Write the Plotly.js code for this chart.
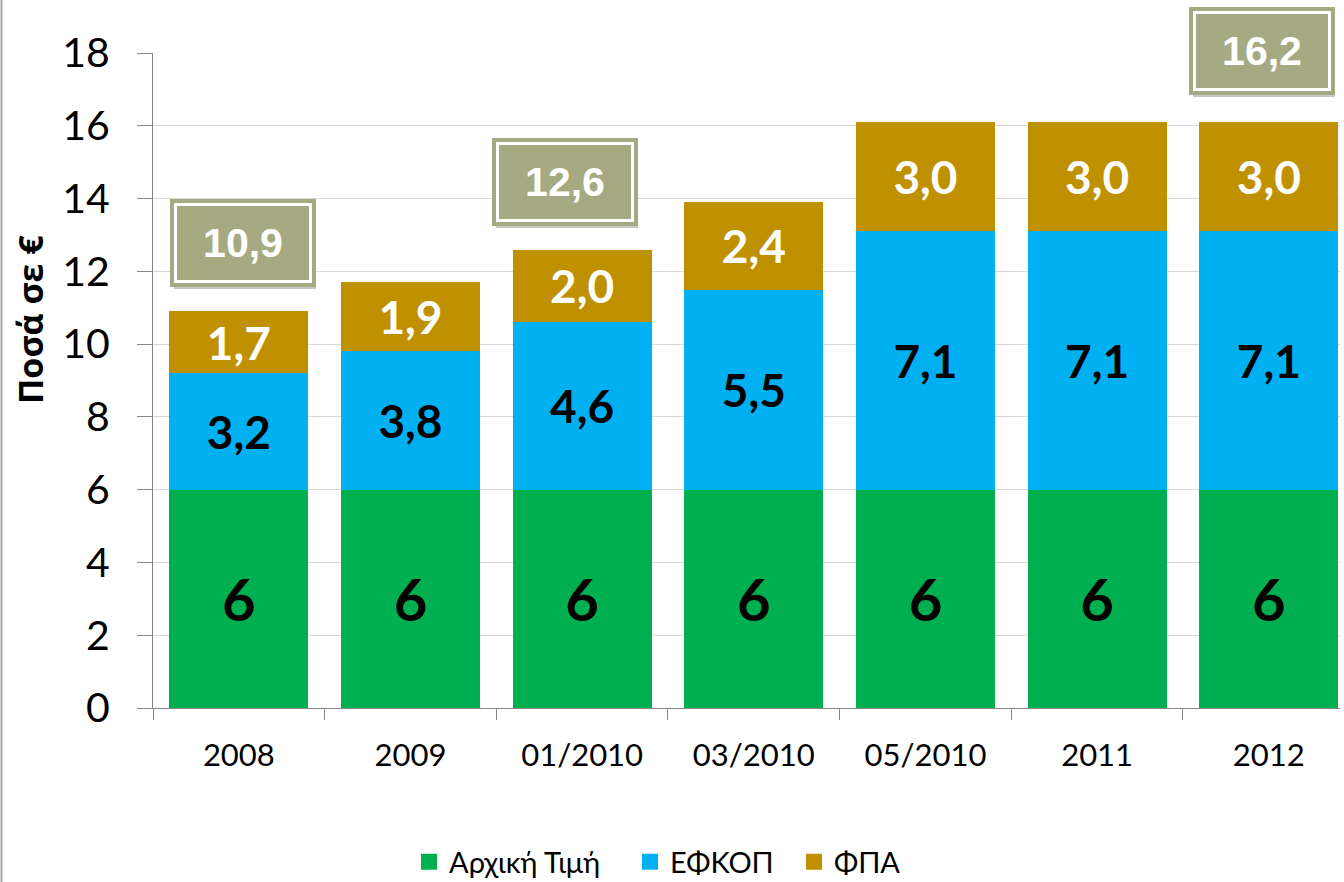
<!DOCTYPE html>
<html>
<head>
<meta charset="utf-8">
<script src="https://cdn.plot.ly/plotly-3.0.1.min.js"></script>
<style>
  html, body { margin: 0; padding: 0; background: #ffffff; }
  #chart { width: 1344px; height: 882px; }
</style>
</head>
<body>
<div id="chart"></div>
<script>
// ---- data ----
const categories = ['2008', '2009', '01/2010', '03/2010', '05/2010', '2011', '2012'];
const basePrice = [6, 6, 6, 6, 6, 6, 6];
const efkop = [3.2, 3.8, 4.6, 5.5, 7.1, 7.1, 7.1];
const fpa = [1.7, 1.9, 2.0, 2.4, 3.0, 3.0, 3.0];
const seriesNames = ['Αρχική Τιμή', 'ΕΦΚΟΠ', 'ΦΠΑ'];
const totalCategories = ['2008', '01/2010', '2012'];
const totalValues = [10.9, 12.6, 16.2];
const yTickValues = [0, 2, 4, 6, 8, 10, 12, 14, 16, 18];
const yAxisTitle = 'Ποσά σε €';

// ---- styling ----
const colors = ['#00B050', '#00B0F0', '#BF9000'];
const boxColor = '#A5AA82';
const W = 1344, H = 882;
const M = { l: 153, r: 4, t: 53, b: 174, autoexpand: false };
const plotW = W - M.l - M.r, plotH = H - M.t - M.b;
const pxX = px => (px - M.l) / plotW;
const pxY = py => (H - M.b - py) / plotH;

const fmt = v => v.toFixed(1).replace('.', ',');

function barTrace(vals, i, labelSize, labelColor, labels) {
  return {
    type: 'bar', x: categories, y: vals, name: seriesNames[i],
    marker: { color: colors[i], line: { width: 0 } },
    text: labels, textposition: 'inside', insidetextanchor: 'middle',
    textangle: 0, constraintext: 'none',
    textfont: { family: 'Lato, "Open Sans", sans-serif', size: labelSize, color: labelColor, weight: 700 },
    showlegend: false, hoverinfo: 'skip', legend: 'legend'
  };
}

const traces = [
  barTrace(basePrice, 0, 58, '#000000', basePrice.map(v => String(v))),
  barTrace(efkop, 1, 46, '#000000', efkop.map(fmt)),
  barTrace(fpa, 2, 46, '#FFFFFF', fpa.map(fmt))
];

// legend proxies (square swatches)
const legendIds = ['legend', 'legend2', 'legend3'];
seriesNames.forEach((n, i) => {
  traces.push({
    type: 'scatter', mode: 'markers', x: [null], y: [null], name: n,
    marker: { symbol: 'square', size: 17, color: colors[i] },
    showlegend: true, legend: legendIds[i], hoverinfo: 'skip'
  });
});

// total boxes
const annFont = { family: '"Liberation Sans", Arial, sans-serif', size: 41, color: '#FFFFFF', weight: 700 };
const blankFont = Object.assign({}, annFont, { color: 'rgba(0,0,0,0)' });
const xShifts = [4, -17, -7];
const annotations = [];
totalCategories.forEach((c, i) => {
  const base = { x: categories.indexOf(c), y: totalValues[i], xref: 'x', yref: 'y', showarrow: false,
                 xanchor: 'center', yanchor: 'middle' };
  // shadow
  annotations.push(Object.assign({}, base, {
    text: '\u00a0', font: blankFont,
    xshift: xShifts[i] + 2, yshift: 64, width: 142, height: 84, borderwidth: 0, borderpad: 0,
    bgcolor: 'rgba(0,0,0,0.22)'
  }));
  // outer olive ring
  annotations.push(Object.assign({}, base, {
    text: '\u00a0', font: blankFont,
    xshift: xShifts[i], yshift: 68, width: 142, height: 84, borderwidth: 2, borderpad: 0,
    bgcolor: boxColor, bordercolor: boxColor
  }));
  // inner box with white frame and the total
  annotations.push(Object.assign({}, base, {
    text: fmt(totalValues[i]), font: annFont,
    xshift: xShifts[i], yshift: 68, width: 132, height: 74, borderwidth: 3, borderpad: 0,
    bgcolor: boxColor, bordercolor: '#FFFFFF'
  }));
});

// y-axis title as rotated text
annotations.push({
  xref: 'paper', yref: 'paper', x: pxX(30), y: pxY(319), xanchor: 'center', yanchor: 'middle',
  showarrow: false, textangle: -90, text: yAxisTitle,
  font: { family: '"Open Sans", sans-serif', size: 34, color: '#000000', weight: 700 }
});

const legendBase = {
  orientation: 'h', yanchor: 'middle', y: pxY(862), xanchor: 'left',
  bgcolor: 'rgba(0,0,0,0)', borderwidth: 0,
  font: { family: 'Lato, "Open Sans", sans-serif', size: 29, color: '#000000' }
};

const layout = {
  width: W, height: H,
  margin: M,
  paper_bgcolor: '#FFFFFF', plot_bgcolor: '#FFFFFF',
  separators: ',.',
  barmode: 'stack', bargap: 0.19,
  font: { family: 'Lato, "Open Sans", sans-serif', color: '#000000' },
  xaxis: {
    type: 'category', range: [-0.5, 6.415], fixedrange: true, automargin: false,
    showline: true, linecolor: '#868686', linewidth: 1,
    ticks: 'outside', tickson: 'boundaries', ticklen: 11, tickcolor: '#868686', tickwidth: 1,
    tickfont: { family: 'Lato, sans-serif', size: 31, color: '#000000' },
    ticklabelstandoff: 20, showgrid: false, zeroline: false
  },
  yaxis: {
    range: [0, 18], tickvals: yTickValues, ticktext: yTickValues.map(String), fixedrange: true, automargin: false,
    showline: true, linecolor: '#868686', linewidth: 1,
    ticks: 'outside', ticklen: 15, tickcolor: '#868686', tickwidth: 1,
    tickfont: { family: 'Lato, sans-serif', size: 41, color: '#000000' },
    ticklabelstandoff: 19,
    showgrid: true, gridcolor: '#D9D9D9', gridwidth: 1, zeroline: false
  },
  legend: Object.assign({}, legendBase, { x: pxX(409) }),
  legend2: Object.assign({}, legendBase, { x: pxX(630) }),
  legend3: Object.assign({}, legendBase, { x: pxX(794) }),
  annotations: annotations,
  shapes: [{
    type: 'line', xref: 'paper', yref: 'paper',
    x0: pxX(1.5), x1: pxX(1.5), y0: pxY(H), y1: pxY(0),
    line: { color: '#A6A6A6', width: 2 }
  }]
};

Plotly.newPlot('chart', traces, layout, { displayModeBar: false, staticPlot: true });
</script>
</body>
</html>
